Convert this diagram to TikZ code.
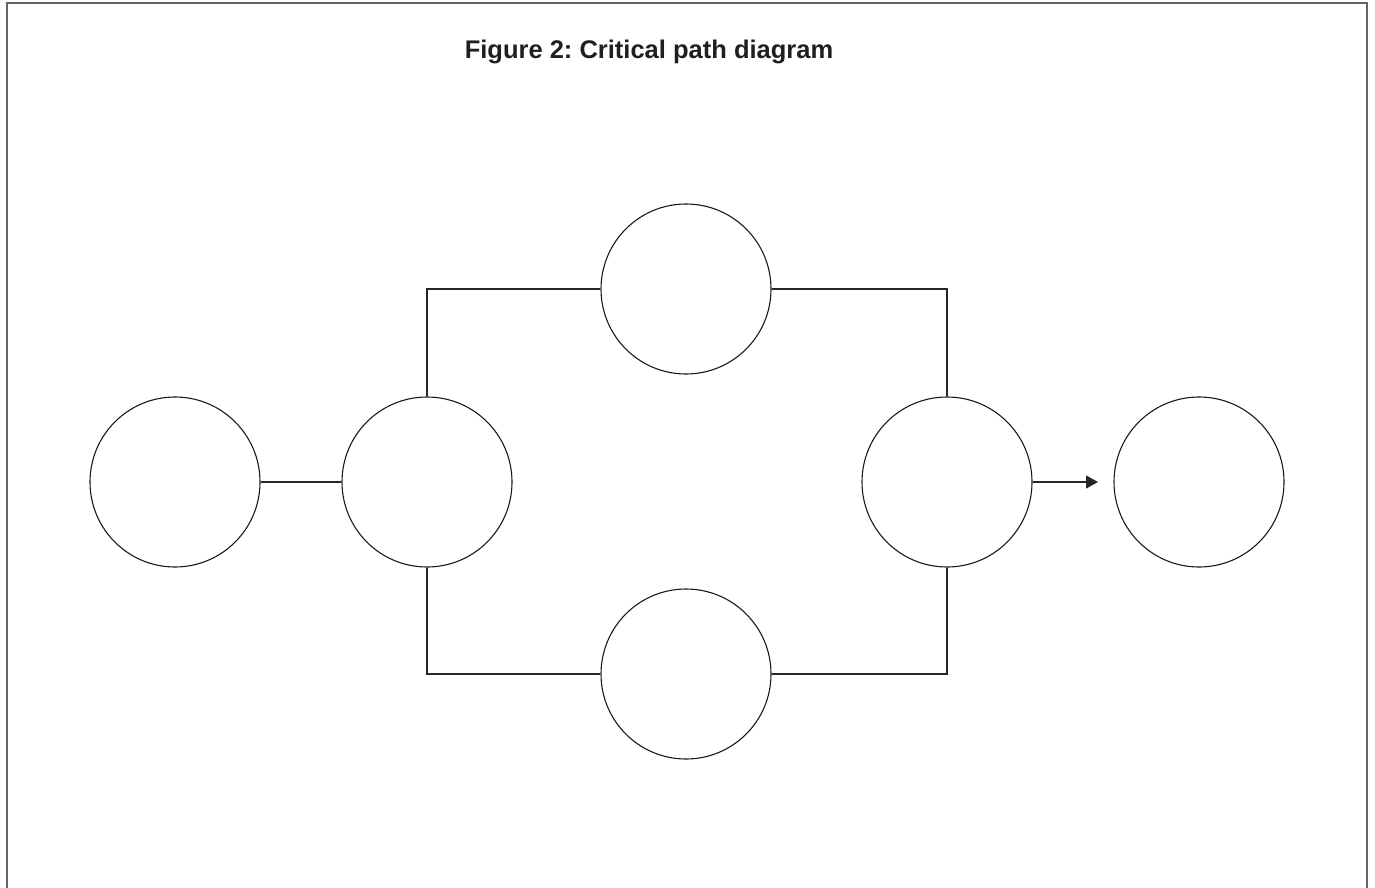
\documentclass[tikz,border=0pt]{standalone}
\usepackage{fontspec}
\setmainfont{Liberation Sans}
\usetikzlibrary{arrows.meta}
\begin{document}
\frenchspacing
\begin{tikzpicture}[x=1pt,y=-1pt,
  event/.style={circle,draw=black!90,line width=1.1pt,minimum size=170pt,inner sep=0pt},
  link/.style={draw=black!85,line width=1.1pt},
  frame/.style={draw=black!60,line width=2.2pt}]
\useasboundingbox (0,0) rectangle (1375,888);
\draw[frame] (7,892) -- (7,3) -- (1367,3) -- (1367,892);
\node[font=\bfseries\fontsize{25.5}{30}\selectfont,anchor=base,inner sep=0pt,text=black!88] (title) at (649,59) {Figure 2: Critical path diagram};
\node[event] (a) at (175,482) {};
\node[event] (b) at (427,482) {};
\node[event] (c) at (686,289) {};
\node[event] (d) at (686,674) {};
\node[event] (e) at (947,482) {};
\node[event] (f) at (1199,482) {};
\coordinate (fend) at (1098,482);
\draw[link] (a) -- (b);
\draw[link] (b.north) |- (c.west);
\draw[link] (c.east) -| (e.north);
\draw[link] (b.south) |- (d.west);
\draw[link] (d.east) -| (e.south);
\draw[link,-{Triangle[length=12pt,width=13pt]}] (e.east) -- (fend);
\end{tikzpicture}
\end{document}
